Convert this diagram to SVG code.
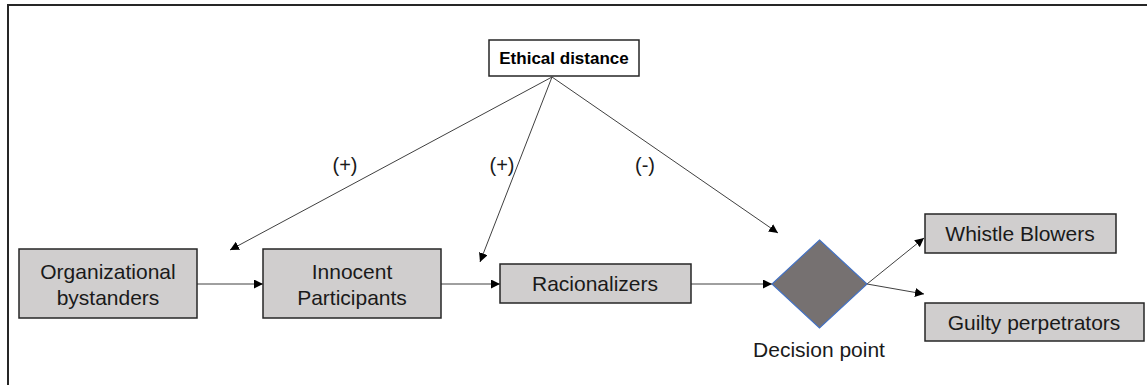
<svg xmlns="http://www.w3.org/2000/svg" width="1147" height="385" viewBox="0 0 1147 385">
<defs>
<marker id="ah" viewBox="0 0 10 10" refX="10" refY="5" markerWidth="9" markerHeight="9" markerUnits="userSpaceOnUse" orient="auto">
<path d="M0,0 L10,5 L0,10 z" fill="#000"/>
</marker>
</defs>
<style>
.box{fill:#d0cece;stroke:#262626;stroke-width:1.5}
.t{font-family:"Liberation Sans",Arial,sans-serif;font-size:21px;fill:#1a1a1a;text-anchor:middle}
.lbl{font-family:"Liberation Sans",Arial,sans-serif;font-size:20px;fill:#1a1a1a;text-anchor:middle}
.c{stroke:#404040;stroke-width:1;fill:none;marker-end:url(#ah)}
</style>
<rect x="0" y="0" width="1147" height="385" fill="#fff"/>
<path d="M8,385 V5 H1147" fill="none" stroke="#262626" stroke-width="2"/>
<g id="connectors">
<line class="c" x1="552" y1="77" x2="230" y2="250"/>
<line class="c" x1="552" y1="77" x2="480" y2="262"/>
<line class="c" x1="552" y1="77" x2="778" y2="233"/>
<line class="c" x1="197" y1="284" x2="263" y2="284"/>
<line class="c" x1="441" y1="284" x2="500" y2="284"/>
<line class="c" x1="691" y1="284" x2="772" y2="284"/>
<line class="c" x1="867" y1="284" x2="924" y2="238"/>
<line class="c" x1="867" y1="284" x2="924" y2="294"/>
<text class="lbl" x="345" y="172">(+)</text>
<text class="lbl" x="502" y="172">(+)</text>
<text class="lbl" x="645" y="172">(-)</text>
</g>
<g id="ethical">
<rect x="489" y="40" width="150" height="36" fill="#fff" stroke="#262626" stroke-width="1.5"/>
<text x="564" y="64" font-family="Liberation Sans,Arial,sans-serif" font-size="17" font-weight="bold" text-anchor="middle" fill="#000">Ethical distance</text>
</g>
<g id="bystanders">
<rect class="box" x="19" y="249" width="178" height="69"/>
<text class="t" x="108" y="279">Organizational</text>
<text class="t" x="108" y="305">bystanders</text>
</g>
<g id="innocent">
<rect class="box" x="263" y="249" width="178" height="69"/>
<text class="t" x="352" y="279">Innocent</text>
<text class="t" x="352" y="305">Participants</text>
</g>
<g id="racionalizers">
<rect class="box" x="500" y="264" width="191" height="39"/>
<text class="t" x="595" y="291">Racionalizers</text>
</g>
<g id="decision">
<polygon points="819.5,240 867,284 819.5,328 772,284" fill="#767171" stroke="#4472c4" stroke-width="1.2"/>
<text class="t" x="819" y="357">Decision point</text>
</g>
<g id="whistle">
<rect class="box" x="925" y="214" width="191" height="39"/>
<text class="t" x="1020" y="241">Whistle Blowers</text>
</g>
<g id="guilty">
<rect class="box" x="925" y="303" width="219" height="38"/>
<text class="t" x="1034" y="330">Guilty perpetrators</text>
</g>
</svg>
